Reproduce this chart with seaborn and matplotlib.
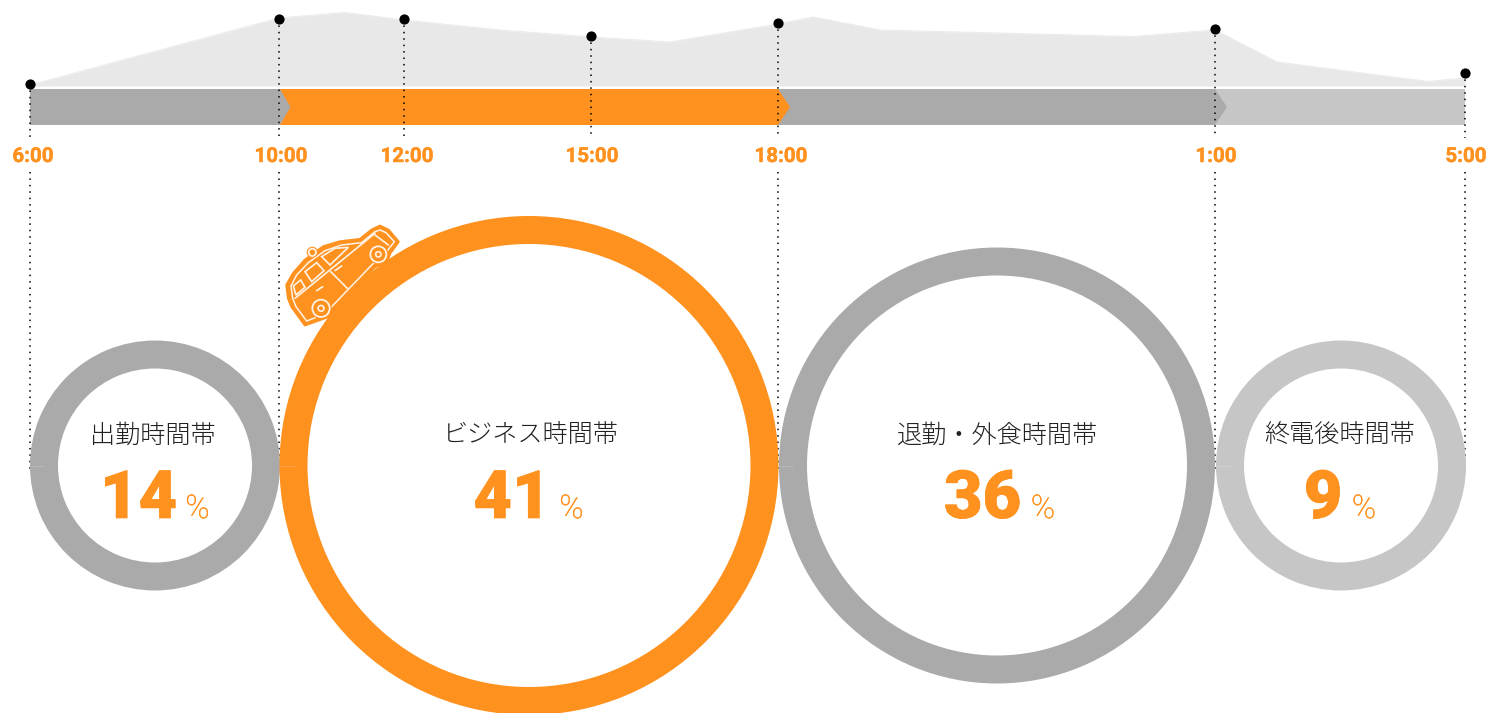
import matplotlib
matplotlib.use('Agg')
import matplotlib.patheffects as pe
import matplotlib.pyplot as plt
import seaborn as sns
from matplotlib.patches import Circle, Polygon, Wedge

ORANGE = '#FF911E'
GREY = '#A9AAA9'
LIGHT = '#C6C6C6'
AREA = '#E8E8E8'
CREAM = '#FFF3E6'

# traffic profile above the time band (pixel scale of the picture)
profile_x = [30, 279, 345, 404, 500, 591, 670, 778, 813, 880, 1133, 1215, 1277, 1428, 1465]
profile_y = [85, 18, 12.5, 20, 30, 37, 42, 24, 17, 30, 36.5, 30, 62, 81.5, 78]

tick_labels = ['6:00', '10:00', '12:00', '15:00', '18:00', '1:00', '5:00']
tick_x = [29.5, 279, 404, 591, 778, 1215, 1464.5]
dot_y = [84, 18.5, 18.5, 36, 23, 29, 73]
tick_text_x = [33, 281, 407, 592, 781, 1216, 1466]

segment_edges = [30, 280, 778, 1215, 1465]
segment_colors = [GREY, ORANGE, GREY, LIGHT]

names = ['出勤時間帯', 'ビジネス時間帯', '退勤・外食時間帯', '終電後時間帯']
shares = ['14', '41', '36', '9']
ring_x = [155, 529, 997, 1341]
ring_r = [125, 249.5, 218, 125]
ring_colors = [GREY, ORANGE, GREY, LIGHT]
name_x = [153, 531, 997, 1340]
share_x = [138.5, 512, 982.5, 1323]
pct_x = [197.5, 571.5, 1043, 1364]

sns.set_theme(style='white')
plt.rcParams['font.family'] = ['Noto Sans CJK JP', 'DejaVu Sans']

fig = plt.figure(figsize=(14.87, 7.13), dpi=100)
ax = fig.add_axes([0, 0, 1, 1])

ax.fill_between(profile_x, profile_y, 86, color=AREA, lw=0, zorder=1)
sns.lineplot(x=profile_x, y=profile_y, color='#EBEBEB', lw=0.8, sort=False, ax=ax, zorder=1)

# time band, each segment ends in a small chevron over the next one
for i in range(4)[::-1]:
    x0, x1 = segment_edges[i], segment_edges[i + 1]
    pts = [(x0, 89), (x1, 89), (x1, 125), (x0, 125)]
    if i < 3:
        tip = 10.5 if i == 0 else 12
        pts = [(x0, 89), (x1, 89), (x1 + tip, 107), (x1, 125), (x0, 125)]
    ax.add_patch(Polygon(pts, closed=True, fc=segment_colors[i], ec='none', zorder=2))

# dotted guides
dots = (0, (1, 3.2))
for x, y, label, tx in zip(tick_x, dot_y, tick_labels, tick_text_x):
    ax.plot([x, x], [y, 138], color='black', lw=1.1, ls=dots, zorder=3)
    if label not in ('12:00', '15:00'):
        ax.plot([x, x], [172, 471], color='black', lw=1.1, ls=dots, zorder=3)
    ax.text(tx, 162, label, color=ORANGE, fontsize=14.8, fontweight='bold',
            family='Roboto', ha='center', va='baseline', zorder=6,
            path_effects=[pe.withStroke(linewidth=0.3, foreground=ORANGE)])

sns.scatterplot(x=tick_x, y=dot_y, color='black', s=54, linewidth=0, ax=ax, zorder=5)

# rings
for x, r, c in zip(ring_x, ring_r, ring_colors):
    ax.add_patch(Wedge((x, 465.5), r, 0, 360, width=28, fc=c, ec='none', zorder=4))
    ax.plot([x - r, x - r + 14], [466, 466], color='white', lw=0.5, alpha=0.25, zorder=4)

for name, nx, share, sx, px in zip(names, name_x, shares, share_x, pct_x):
    ax.text(nx, 443, name, color='#222222', fontsize=18.1, fontweight='light',
            ha='center', va='baseline', zorder=6)
    ax.text(sx, 518, share, color=ORANGE, fontsize=48, fontweight='black',
            family='Roboto', ha='center', va='baseline', zorder=6,
            path_effects=[pe.withStroke(linewidth=0.5, foreground=ORANGE)])
    ax.text(px, 518, '%', color=ORANGE, fontsize=23.5, fontweight='light',
            family='Roboto', ha='center', va='baseline', zorder=6,
            path_effects=[pe.withStroke(linewidth=0.3, foreground=ORANGE)])

# taxi icon
def car(pts):
    return [(260 + a / 3, 210 + b / 3) for a, b in pts]

body = [(80, 225), (100, 190), (135, 150), (190, 110), (240, 95), (300, 88), (335, 60), (360, 48),
        (385, 60), (415, 95), (390, 130), (380, 155), (345, 170), (220, 300), (205, 320),
        (135, 345), (95, 290), (85, 265)]
ax.add_patch(Polygon(car(body), closed=True, fc=ORANGE, ec=ORANGE, lw=2, joinstyle='round', zorder=7))
inner = [(93, 228), (110, 195), (145, 158), (195, 122), (245, 105), (305, 98), (345, 65), (360, 60),
         (378, 68), (403, 95), (380, 125), (368, 155), (340, 160), (215, 290), (200, 310),
         (140, 333), (108, 290), (98, 265)]
ax.add_patch(Polygon(car(inner), closed=True, fc='none', ec=CREAM, lw=1.1, zorder=8))
white_lines = [[(105, 265), (345, 70)], [(212, 185), (262, 235)], [(225, 182), (245, 168)],
               [(170, 242), (188, 230)], [(345, 75), (385, 105)]]
for seg in white_lines:
    xs, ys = zip(*car(seg))
    ax.plot(xs, ys, color=CREAM, lw=1.2, zorder=8)
windows = [[(185, 140), (225, 115), (265, 112), (210, 165)],
           [(135, 185), (170, 158), (192, 182), (155, 215)],
           [(100, 228), (122, 210), (135, 232), (108, 255)]]
for w in windows:
    ax.add_patch(Polygon(car(w), closed=True, fc=ORANGE, ec=CREAM, lw=1.2, zorder=8))
for cx, cy, r in [(183, 295, 26), (355, 133, 24), (157, 127, 11)]:
    x, y = car([(cx, cy)])[0]
    ax.add_patch(Circle((x, y), (r + 6) / 3, fc=ORANGE, ec='none', zorder=9))
    ax.add_patch(Circle((x, y), r / 3, fc=ORANGE, ec=CREAM, lw=1.3, zorder=9))
    if r > 20:
        ax.add_patch(Circle((x, y), r / 9, fc=ORANGE, ec=CREAM, lw=1.2, zorder=9))

ax.set_xlim(0, 1487)
ax.set_ylim(713, 0)
ax.axis('off')

fig.savefig('out.png', dpi=100)
